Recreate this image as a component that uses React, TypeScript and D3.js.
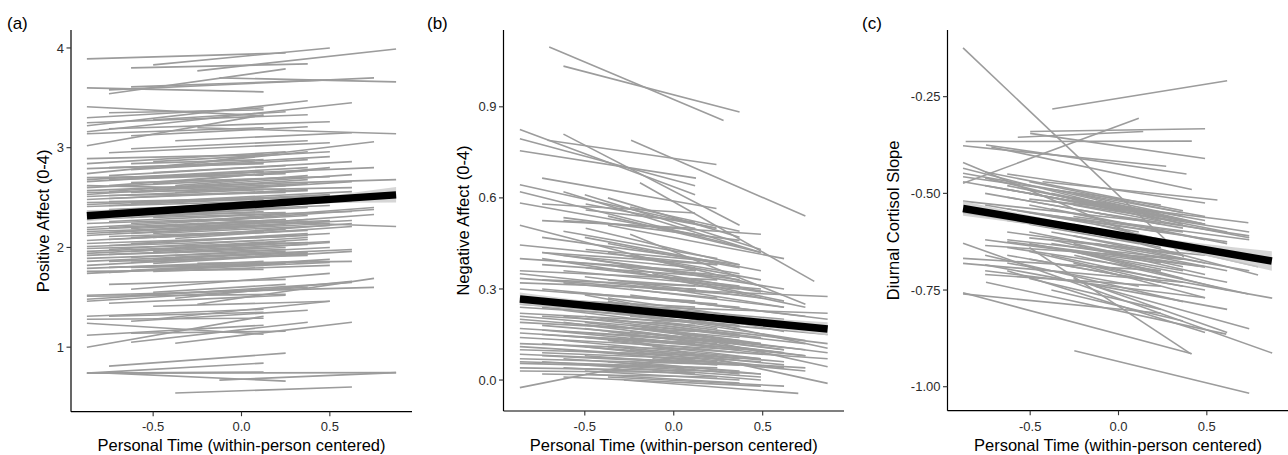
import React, { useEffect, useRef } from "react";
import * as d3 from "d3";

type Seg = [number, number, number, number];

// tick values
const xTicks = [-0.5, 0, 0.5];
const yTicksA = [1, 2, 3, 4];
const yTicksB = [0, 0.3, 0.6, 0.9];
const yTicksC = [-1, -0.75, -0.5, -0.25];

// person-level lines: [x0, y0, x1, y1]
const segsA: Seg[] = [
  [-0.875, 3.89, 0.25, 3.95], [-0.5, 3.83, 0.5, 4.0], [-0.625, 3.8, 0.375, 3.84], [-0.25, 3.77, 0.875, 3.99],
  [-0.75, 3.54, 0.25, 3.79], [-0.875, 3.6, 0.125, 3.56], [-0.75, 3.58, 0.75, 3.7], [-0.125, 3.7, 0.875, 3.66],
  [-0.625, 3.61, 0.5, 3.68],
  [-0.875, 3.41, 0.125, 3.32], [-0.875, 3.3, 0.125, 3.4], [-0.875, 3.22, 0.375, 3.47], [-0.875, 3.16, 0.625, 3.45],
  [-0.875, 3.02, 0.125, 3.33], [-0.875, 3.25, 0.375, 3.33], [-0.75, 3.19, 0.5, 3.26], [-0.25, 3.2, 0.875, 3.14],
  [-0.625, 3.12, 0.375, 3.21], [-0.875, 3.14, 0.125, 3.2], [-0.5, 3.28, 0.25, 3.36], [-0.375, 3.07, 0.625, 3.15],
  [-0.75, 3.35, 0.125, 3.38],
  [-0.875, 2.89, 0.125, 2.93], [-0.875, 2.84, 0.25, 2.96], [-0.875, 2.74, 0.375, 2.96], [-0.75, 2.95, 0.5, 3.05],
  [-0.625, 2.99, 0.375, 3.07], [-0.25, 2.85, 0.75, 3.06], [-0.875, 2.79, 0.125, 2.85], [-0.75, 2.72, 0.25, 2.82],
  [-0.5, 2.86, 0.5, 2.96], [-0.875, 2.66, 0.125, 2.76], [-0.875, 2.6, 0.25, 2.7], [-0.75, 2.62, 0.375, 2.77],
  [-0.625, 2.78, 0.375, 2.88], [-0.875, 2.57, 0.125, 2.64], [-0.75, 2.56, 0.625, 2.73], [-0.875, 2.53, 0.375, 2.68],
  [-0.5, 2.64, 0.5, 2.8], [-0.375, 2.72, 0.75, 2.8], [-0.875, 2.51, 0.125, 2.58], [-0.625, 2.55, 0.25, 2.62],
  [-0.25, 2.62, 0.875, 2.68], [-0.5, 2.58, 0.375, 2.64], [-0.875, 2.7, 0.125, 2.73], [-0.75, 2.8, 0.125, 2.84],
  [-0.625, 2.65, 0.5, 2.71], [-0.375, 2.55, 0.625, 2.66], [-0.75, 2.52, 0.25, 2.55], [-0.875, 2.62, 0.25, 2.58],
  [-0.375, 2.82, 0.5, 2.91],
  [-0.875, 2.45, 0.125, 2.48], [-0.875, 2.41, 0.25, 2.47], [-0.875, 2.36, 0.375, 2.44], [-0.75, 2.42, 0.5, 2.52],
  [-0.625, 2.38, 0.375, 2.48], [-0.875, 2.28, 0.125, 2.36], [-0.875, 2.24, 0.125, 2.3], [-0.75, 2.26, 0.25, 2.34],
  [-0.875, 2.2, 0.375, 2.32], [-0.5, 2.3, 0.625, 2.36], [-0.375, 2.25, 0.75, 2.4], [-0.25, 2.28, 0.875, 2.21],
  [-0.875, 2.16, 0.125, 2.22], [-0.75, 2.15, 0.375, 2.28], [-0.875, 2.12, 0.25, 2.23], [-0.625, 2.19, 0.5, 2.27],
  [-0.875, 2.07, 0.125, 2.16], [-0.875, 2.04, 0.25, 2.11], [-0.75, 2.08, 0.375, 2.17], [-0.5, 2.14, 0.5, 2.22],
  [-0.375, 2.18, 0.625, 2.27], [-0.625, 2.1, 0.25, 2.18], [-0.875, 2.01, 0.125, 2.07], [-0.75, 2.02, 0.5, 2.14],
  [-0.25, 2.2, 0.75, 2.33], [-0.5, 2.05, 0.375, 2.14], [-0.875, 2.32, 0.25, 2.35], [-0.75, 2.33, 0.125, 2.4],
  [-0.375, 2.36, 0.5, 2.42], [-0.625, 2.24, 0.125, 2.3], [-0.875, 2.18, 0.125, 2.26], [-0.5, 2.21, 0.25, 2.28],
  [-0.375, 2.09, 0.625, 2.21], [-0.625, 2.04, 0.375, 2.12], [-0.25, 2.26, 0.75, 2.38], [-0.75, 2.46, 0.375, 2.5],
  [-0.875, 1.96, 0.125, 2.03], [-0.875, 1.92, 0.25, 2.0], [-0.875, 1.86, 0.125, 1.94], [-0.875, 1.82, 0.375, 1.94],
  [-0.875, 1.79, 0.125, 1.86], [-0.875, 1.74, 0.25, 1.84], [-0.75, 1.8, 0.125, 1.84], [-0.75, 1.75, 0.5, 1.88],
  [-0.625, 1.77, 0.375, 1.86], [-0.625, 1.9, 0.5, 2.0], [-0.5, 1.84, 0.625, 1.96], [-0.375, 1.78, 0.5, 1.85],
  [-0.75, 1.93, 0.25, 1.98], [-0.5, 1.96, 0.375, 2.03], [-0.875, 1.99, 0.375, 2.05], [-0.75, 1.86, 0.375, 1.92],
  [-0.25, 1.84, 0.625, 1.86], [-0.625, 1.8, 0.125, 1.82], [-0.375, 1.9, 0.625, 1.98], [-0.875, 1.76, 0.125, 1.78],
  [-0.5, 1.76, 0.5, 1.82],
  [-0.875, 1.46, 0.125, 1.57], [-0.875, 1.51, 0.25, 1.53], [-0.875, 1.52, 0.75, 1.6], [-0.75, 1.44, 0.25, 1.52],
  [-0.5, 1.41, 0.5, 1.46], [-0.375, 1.49, 0.625, 1.66], [-0.25, 1.43, 0.75, 1.69], [-0.625, 1.58, 0.5, 1.74],
  [-0.75, 1.63, 0.25, 1.68], [-0.875, 1.48, 0.625, 1.65], [-0.625, 1.52, 0.375, 1.6], [-0.5, 1.55, 0.25, 1.63],
  [-0.875, 1.0, 0.125, 1.31], [-0.875, 1.12, 0.125, 1.22], [-0.875, 1.24, 0.125, 1.13], [-0.625, 1.05, 0.375, 1.25],
  [-0.375, 1.04, 0.625, 1.25], [-0.875, 1.28, 0.125, 1.29], [-0.875, 1.31, 0.125, 1.38], [-0.625, 1.26, 0.375, 1.37],
  [-0.75, 1.31, 0.125, 1.35], [-0.5, 1.28, 0.5, 1.46], [-0.625, 1.14, 0.25, 1.16],
  [-0.875, 0.74, 0.125, 0.75], [-0.875, 0.74, 0.875, 0.745], [-0.75, 0.74, 0.25, 0.66], [-0.75, 0.81, 0.25, 0.94],
  [-0.875, 0.74, 0.125, 0.84], [-0.125, 0.67, 0.875, 0.745], [-0.375, 0.54, 0.625, 0.6],
  [-0.875, 2.48, 0.375, 2.58], [-0.75, 2.38, 0.125, 2.44], [-0.625, 2.3, 0.25, 2.4], [-0.5, 2.46, 0.625, 2.56],
  [-0.875, 2.14, 0.5, 2.26], [-0.75, 2.11, 0.125, 2.16], [-0.375, 2.0, 0.375, 2.08], [-0.625, 1.96, 0.25, 2.06],
  [-0.875, 1.89, 0.25, 1.96], [-0.5, 1.88, 0.375, 1.95], [-0.75, 2.68, 0.25, 2.74], [-0.625, 2.84, 0.125, 2.88],
  [-0.375, 2.62, 0.375, 2.72], [-0.875, 2.55, 0.625, 2.6], [-0.25, 2.4, 0.625, 2.46], [-0.125, 2.14, 0.625, 2.24],
  [-0.875, 2.43, 0.125, 2.5], [-0.75, 2.49, 0.375, 2.57], [-0.625, 2.44, 0.5, 2.53], [-0.5, 2.36, 0.375, 2.44],
  [-0.875, 2.3, 0.375, 2.4], [-0.75, 2.2, 0.25, 2.28], [-0.625, 2.14, 0.5, 2.24], [-0.5, 2.1, 0.125, 2.16],
  [-0.875, 1.94, 0.5, 2.06], [-0.625, 1.85, 0.25, 1.92], [-0.75, 1.98, 0.375, 2.1], [-0.375, 1.95, 0.5, 2.05],
  [-0.875, 2.68, 0.375, 2.8], [-0.625, 2.7, 0.125, 2.76], [-0.5, 2.75, 0.625, 2.86],
];

const segsB: Seg[] = [
  [-0.7, 1.097, 0.28, 0.855], [-0.62, 1.034, 0.37, 0.883], [-0.865, 0.825, 0.12, 0.61], [-0.865, 0.795, 0.12, 0.64],
  [-0.865, 0.755, 0.125, 0.665], [-0.71, 0.79, 0.24, 0.71], [-0.62, 0.81, 0.37, 0.51], [-0.24, 0.79, 0.74, 0.54],
  [-0.74, 0.665, 0.24, 0.565],
  [-0.865, 0.643, 0.24, 0.5], [-0.865, 0.62, 0.37, 0.44], [-0.865, 0.583, 0.12, 0.48], [-0.865, 0.51, 0.125, 0.36],
  [-0.62, 0.62, 0.49, 0.42], [-0.5, 0.61, 0.49, 0.43], [-0.37, 0.6, 0.37, 0.47], [-0.495, 0.58, 0.24, 0.5],
  [-0.74, 0.58, 0.12, 0.55], [-0.62, 0.535, 0.37, 0.46], [-0.62, 0.525, 0.49, 0.48], [-0.74, 0.525, 0.12, 0.5],
  [-0.495, 0.56, 0.12, 0.52], [-0.245, 0.57, 0.37, 0.49], [-0.37, 0.54, 0.49, 0.42], [-0.19, 0.65, 0.79, 0.325],
  [-0.62, 0.49, 0.245, 0.4], [-0.495, 0.5, 0.37, 0.38], [-0.74, 0.47, 0.37, 0.38], [-0.37, 0.51, 0.62, 0.4],
  [-0.865, 0.445, 0.245, 0.38], [-0.74, 0.42, 0.245, 0.38], [-0.5, 0.47, 0.49, 0.36], [-0.245, 0.48, 0.74, 0.25],
  [-0.37, 0.45, 0.37, 0.37],
  [-0.865, 0.4, 0.12, 0.36], [-0.865, 0.36, 0.245, 0.33], [-0.865, 0.35, 0.12, 0.29], [-0.865, 0.335, 0.37, 0.28],
  [-0.865, 0.32, 0.125, 0.3], [-0.74, 0.42, 0.37, 0.33], [-0.74, 0.4, 0.49, 0.29], [-0.74, 0.38, 0.245, 0.34],
  [-0.62, 0.41, 0.12, 0.37], [-0.62, 0.39, 0.37, 0.34], [-0.62, 0.36, 0.49, 0.3], [-0.495, 0.43, 0.245, 0.39],
  [-0.495, 0.4, 0.62, 0.3], [-0.495, 0.37, 0.37, 0.31], [-0.37, 0.42, 0.49, 0.33], [-0.37, 0.38, 0.62, 0.28],
  [-0.245, 0.41, 0.37, 0.35], [-0.245, 0.36, 0.74, 0.24], [-0.12, 0.4, 0.49, 0.31], [-0.12, 0.35, 0.62, 0.26],
  [-0.74, 0.33, 0.12, 0.31], [-0.62, 0.32, 0.245, 0.27], [-0.5, 0.34, 0.49, 0.27], [-0.37, 0.33, 0.37, 0.3],
  [-0.245, 0.32, 0.62, 0.24], [-0.12, 0.3, 0.865, 0.275], [-0.245, 0.28, 0.865, 0.2], [-0.37, 0.26, 0.865, 0.105],
  [-0.12, 0.17, 0.865, 0.044], [-0.245, 0.13, 0.865, -0.011], [-0.28, 0.0, 0.7, -0.044], [-0.12, 0.24, 0.865, 0.22],
  [-0.865, 0.27, 0.12, 0.24], [-0.865, 0.25, 0.245, 0.2], [-0.865, 0.22, 0.12, 0.19], [-0.865, 0.2, 0.37, 0.14],
  [-0.865, 0.19, 0.12, 0.16], [-0.865, 0.17, 0.245, 0.13], [-0.865, 0.155, 0.12, 0.12], [-0.865, 0.14, 0.37, 0.1],
  [-0.865, 0.12, 0.12, 0.1], [-0.865, 0.1, 0.245, 0.08], [-0.865, 0.085, 0.12, 0.06], [-0.865, 0.07, 0.37, 0.05],
  [-0.865, 0.055, 0.12, 0.04], [-0.865, 0.04, 0.245, 0.03], [-0.865, 0.03, 0.12, 0.025], [-0.865, -0.025, 0.12, 0.09],
  [-0.74, 0.24, 0.37, 0.18], [-0.74, 0.21, 0.12, 0.18], [-0.74, 0.18, 0.49, 0.12], [-0.74, 0.15, 0.245, 0.11],
  [-0.74, 0.12, 0.37, 0.07], [-0.74, 0.09, 0.12, 0.07], [-0.74, 0.06, 0.49, 0.02], [-0.74, 0.02, 0.245, 0.01],
  [-0.62, 0.26, 0.49, 0.18], [-0.62, 0.23, 0.245, 0.17], [-0.62, 0.19, 0.62, 0.1], [-0.62, 0.16, 0.37, 0.12],
  [-0.62, 0.13, 0.49, 0.07], [-0.62, 0.1, 0.245, 0.06], [-0.62, 0.07, 0.37, 0.03], [-0.62, 0.04, 0.12, 0.02],
  [-0.5, 0.28, 0.62, 0.16], [-0.5, 0.24, 0.37, 0.17], [-0.5, 0.21, 0.49, 0.14], [-0.5, 0.17, 0.74, 0.08],
  [-0.5, 0.14, 0.37, 0.09], [-0.5, 0.11, 0.62, 0.04], [-0.5, 0.08, 0.245, 0.05], [-0.5, 0.05, 0.49, 0.01],
  [-0.37, 0.27, 0.49, 0.2], [-0.37, 0.23, 0.74, 0.13], [-0.37, 0.2, 0.37, 0.15], [-0.37, 0.16, 0.62, 0.09],
  [-0.37, 0.13, 0.49, 0.07], [-0.37, 0.09, 0.74, 0.03], [-0.37, 0.06, 0.37, 0.02], [-0.245, 0.25, 0.62, 0.18],
  [-0.245, 0.21, 0.865, 0.15], [-0.245, 0.18, 0.49, 0.12], [-0.245, 0.14, 0.74, 0.08], [-0.245, 0.1, 0.62, 0.05],
  [-0.245, 0.06, 0.49, 0.02], [-0.12, 0.22, 0.74, 0.17], [-0.12, 0.19, 0.865, 0.12], [-0.12, 0.15, 0.62, 0.1],
  [-0.12, 0.11, 0.865, 0.07], [-0.12, 0.07, 0.74, 0.04], [-0.12, 0.03, 0.49, 0.0], [-0.865, 0.3, 0.245, 0.25],
  [-0.74, 0.3, 0.37, 0.24], [-0.62, 0.29, 0.12, 0.26], [-0.495, 0.02, 0.37, -0.01], [-0.62, 0.01, 0.49, -0.02],
  [-0.37, 0.01, 0.62, -0.02], [-0.865, 0.11, 0.49, 0.06], [-0.865, 0.24, 0.49, 0.19], [-0.74, 0.27, 0.62, 0.2],
  [-0.12, 0.27, 0.74, 0.21], [-0.245, 0.3, 0.62, 0.24],
  [-0.865, 0.21, 0.37, 0.15], [-0.74, 0.165, 0.62, 0.09], [-0.62, 0.145, 0.245, 0.12], [-0.5, 0.19, 0.37, 0.13],
  [-0.37, 0.11, 0.62, 0.06], [-0.245, 0.16, 0.74, 0.1], [-0.12, 0.13, 0.62, 0.08], [-0.865, 0.06, 0.245, 0.04],
  [-0.74, 0.08, 0.37, 0.05], [-0.5, 0.03, 0.37, 0.0], [-0.62, 0.21, 0.74, 0.12], [-0.37, 0.18, 0.865, 0.09],
];

const segsC: Seg[] = [
  [-0.88, -0.124, 0.37, -0.665], [-0.375, -0.282, 0.615, -0.209], [-0.88, -0.474, 0.115, -0.306],
  [-0.865, -0.366, 0.415, -0.365], [-0.5, -0.34, 0.49, -0.333], [-0.57, -0.355, 0.14, -0.34],
  [-0.5, -0.345, 0.49, -0.41], [-0.88, -0.377, 0.27, -0.43], [-0.75, -0.375, 0.385, -0.45],
  [-0.72, -0.38, 0.415, -0.49], [-0.43, -0.47, 0.56, -0.517], [-0.25, -0.52, 0.735, -0.576],
  [-0.25, -0.907, 0.74, -1.017], [-0.88, -0.757, 0.415, -0.915], [-0.88, -0.76, 0.24, -0.81],
  [-0.75, -0.73, 0.61, -0.864], [-0.88, -0.629, 0.87, -0.913], [-0.12, -0.69, 0.87, -0.771],
  [-0.13, -0.6, 0.79, -0.711], [-0.25, -0.66, 0.735, -0.76],
  [-0.88, -0.42, 0.115, -0.61], [-0.88, -0.435, 0.365, -0.58], [-0.88, -0.448, 0.49, -0.56],
  [-0.88, -0.457, 0.24, -0.53], [-0.88, -0.47, 0.115, -0.55], [-0.755, -0.445, 0.365, -0.545],
  [-0.755, -0.46, 0.24, -0.57], [-0.63, -0.45, 0.49, -0.525], [-0.63, -0.48, 0.24, -0.56],
  [-0.505, -0.47, 0.365, -0.55], [-0.38, -0.49, 0.49, -0.58], [-0.505, -0.5, 0.615, -0.6],
  [-0.38, -0.52, 0.74, -0.6], [-0.255, -0.5, 0.365, -0.56], [-0.755, -0.5, 0.24, -0.58],
  [-0.63, -0.51, 0.365, -0.59], [-0.505, -0.53, 0.49, -0.62], [-0.38, -0.54, 0.615, -0.63],
  [-0.255, -0.53, 0.74, -0.615], [-0.13, -0.55, 0.74, -0.61], [-0.255, -0.56, 0.74, -0.62],
  [-0.38, -0.56, 0.615, -0.625], [-0.505, -0.55, 0.365, -0.6], [-0.63, -0.54, 0.24, -0.6],
  [-0.755, -0.53, 0.115, -0.6], [-0.88, -0.52, 0.115, -0.57], [-0.505, -0.515, 0.24, -0.55],
  [-0.13, -0.52, 0.49, -0.57],
  [-0.88, -0.668, 0.24, -0.7], [-0.88, -0.681, 0.365, -0.73], [-0.755, -0.62, 0.24, -0.68],
  [-0.755, -0.635, 0.365, -0.67], [-0.755, -0.7, 0.49, -0.77], [-0.755, -0.71, 0.24, -0.74],
  [-0.63, -0.6, 0.365, -0.66], [-0.63, -0.625, 0.49, -0.69], [-0.63, -0.64, 0.24, -0.7],
  [-0.63, -0.66, 0.365, -0.74], [-0.505, -0.615, 0.49, -0.66], [-0.505, -0.63, 0.365, -0.7],
  [-0.505, -0.65, 0.24, -0.73], [-0.505, -0.67, 0.49, -0.75], [-0.38, -0.6, 0.365, -0.66],
  [-0.38, -0.62, 0.49, -0.71], [-0.38, -0.64, 0.615, -0.73], [-0.38, -0.66, 0.24, -0.72],
  [-0.255, -0.61, 0.49, -0.68], [-0.255, -0.63, 0.365, -0.69], [-0.255, -0.65, 0.615, -0.75],
  [-0.255, -0.68, 0.49, -0.77], [-0.13, -0.63, 0.74, -0.7], [-0.13, -0.66, 0.365, -0.72],
  [-0.63, -0.68, 0.115, -0.74], [-0.755, -0.66, 0.365, -0.78], [-0.505, -0.6, 0.615, -0.7],
  [-0.505, -0.64, 0.41, -0.915], [-0.63, -0.7, 0.49, -0.86], [-0.255, -0.72, 0.615, -0.86],
  [-0.13, -0.74, 0.74, -0.85], [-0.38, -0.75, 0.365, -0.83], [-0.505, -0.72, 0.24, -0.8],
  [-0.755, -0.685, 0.615, -0.8], [-0.13, -0.58, 0.615, -0.66], [-0.255, -0.58, 0.79, -0.69],
  [-0.38, -0.58, 0.24, -0.64], [-0.505, -0.58, 0.115, -0.63], [-0.63, -0.57, 0.49, -0.64],
  [-0.88, -0.55, 0.24, -0.63],
  [-0.755, -0.48, 0.365, -0.57], [-0.63, -0.49, 0.49, -0.58], [-0.505, -0.49, 0.24, -0.56],
  [-0.38, -0.5, 0.365, -0.57], [-0.255, -0.51, 0.49, -0.58], [-0.63, -0.62, 0.365, -0.67],
  [-0.38, -0.63, 0.49, -0.69],
];

// pooled fit and its confidence band: [x, y] and [x, lower, upper]
const fitA = [[-0.875, 2.317], [0.875, 2.527]];
const bandA = [[-0.875, 2.26, 2.375], [-0.4, 2.34, 2.39], [0, 2.395, 2.44], [0.4, 2.44, 2.5], [0.875, 2.45, 2.605]];
const fitB = [[-0.865, 0.267], [0.865, 0.168]];
const bandB = [[-0.865, 0.247, 0.288], [0, 0.207, 0.228], [0.865, 0.147, 0.19]];
const fitC = [[-0.88, -0.539], [0.868, -0.675]];
const bandC = [[-0.88, -0.52, -0.558], [0, -0.6, -0.616], [0.868, -0.65, -0.7]];

const xTitle = "Personal Time (within-person centered)";
const FONT = "'Liberation Sans', Arial, Helvetica, sans-serif";

const panels = [
  { tag: "(a)", tagX: 7, title: "Positive Affect (0-4)", segs: segsA, fit: fitA, band: bandA, yTicks: yTicksA, yFmt: (d: number) => d.toFixed(0),
    x0: 71, x1: 412, xDom: [-0.965, 0.965], yBot: 411.7, yDom: [0.353, 4.18], titleX: 48.5 },
  { tag: "(b)", tagX: 427, title: "Negative Affect (0-4)", segs: segsB, fit: fitB, band: bandB, yTicks: yTicksB, yFmt: (d: number) => d.toFixed(1),
    x0: 503.5, x1: 844, xDom: [-0.957, 0.957], yBot: 411, yDom: [-0.102, 1.153], titleX: 468.5 },
  { tag: "(c)", tagX: 862, title: "Diurnal Cortisol Slope", segs: segsC, fit: fitC, band: bandC, yTicks: yTicksC, yFmt: (d: number) => d.toFixed(2),
    x0: 947.5, x1: 1289.5, xDom: [-0.968, 0.968], yBot: 410.7, yDom: [-1.062, -0.0776], titleX: 898.5 },
];

const App = () => {
  const svgRef = useRef<SVGSVGElement>(null);

  useEffect(() => {
    const svg = d3.select(svgRef.current);
    svg.selectAll("*").remove();
    const top = 30;

    panels.forEach(p => {
      const x = d3.scaleLinear().domain(p.xDom).range([p.x0, p.x1]);
      const y = d3.scaleLinear().domain(p.yDom).range([p.yBot, top]);
      const g = svg.append("g");

      // spaghetti lines
      g.selectAll(".seg")
        .data(p.segs)
        .enter()
        .append("line")
        .attr("x1", d => x(d[0]))
        .attr("y1", d => y(d[1]))
        .attr("x2", d => x(d[2]))
        .attr("y2", d => y(d[3]))
        .attr("stroke", "#9c9c9c")
        .attr("stroke-width", 1.6);

      // confidence band
      const area = d3.area<number[]>()
        .x(d => x(d[0]))
        .y0(d => y(d[1]))
        .y1(d => y(d[2]))
        .curve(d3.curveMonotoneX);
      g.append("path")
        .attr("d", area(p.band))
        .attr("fill", "#cccccc")
        .attr("opacity", 0.8);

      // fixed effect
      const line = d3.line<number[]>().x(d => x(d[0])).y(d => y(d[1]));
      g.append("path")
        .attr("d", line(p.fit))
        .attr("stroke", "#000")
        .attr("stroke-width", 7.5)
        .attr("fill", "none");

      // axes
      g.append("line")
        .attr("x1", p.x0).attr("x2", p.x0)
        .attr("y1", top).attr("y2", p.yBot)
        .attr("stroke", "#000").attr("stroke-width", 1.2);
      g.append("line")
        .attr("x1", p.x0).attr("x2", p.x1)
        .attr("y1", p.yBot).attr("y2", p.yBot)
        .attr("stroke", "#000").attr("stroke-width", 1.2);

      p.yTicks.forEach(t => {
        g.append("line")
          .attr("x1", p.x0 - 4.5).attr("x2", p.x0)
          .attr("y1", y(t)).attr("y2", y(t))
          .attr("stroke", "#333").attr("stroke-width", 1.1);
        g.append("text")
          .attr("x", p.x0 - 7)
          .attr("y", y(t))
          .attr("dy", "0.35em")
          .attr("text-anchor", "end")
          .style("font-size", "13px")
          .style("font-family", FONT)
          .attr("fill", "#2b2b2b")
          .text(p.yFmt(t));
      });

      xTicks.forEach(t => {
        g.append("line")
          .attr("x1", x(t)).attr("x2", x(t))
          .attr("y1", p.yBot).attr("y2", p.yBot + 4.5)
          .attr("stroke", "#333").attr("stroke-width", 1.1);
        g.append("text")
          .attr("x", x(t))
          .attr("y", 431)
          .attr("text-anchor", "middle")
          .style("font-size", "13px")
          .style("font-family", FONT)
          .attr("fill", "#2b2b2b")
          .text(t.toFixed(1));
      });

      // titles
      g.append("text")
        .attr("x", (p.x0 + Math.min(p.x1, p.x0 + 341)) / 2)
        .attr("y", 451)
        .attr("text-anchor", "middle")
        .style("font-size", "16.5px")
        .style("font-family", FONT)
        .text(xTitle);

      g.append("text")
        .attr("transform", `translate(${p.titleX},${(top + p.yBot) / 2}) rotate(-90)`)
        .attr("text-anchor", "middle")
        .style("font-size", "16.5px")
        .style("font-family", FONT)
        .text(p.title);

      g.append("text")
        .attr("x", p.tagX)
        .attr("y", 29)
        .style("font-size", "17px")
        .style("font-family", FONT)
        .text(p.tag);
    });
  }, []);

  return (
    <svg
      ref={svgRef}
      width={1288}
      height={455}
      style={{ position: "absolute", left: 0, top: 0, background: "#fff" }}
    />
  );
};

export default App;
